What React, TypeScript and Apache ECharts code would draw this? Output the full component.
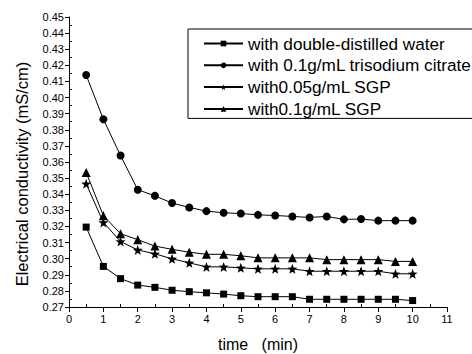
import React, { useEffect, useRef } from "react";
import * as echarts from "echarts";

const times = [0.5, 1, 1.5, 2, 2.5, 3, 3.5, 4, 4.5, 5, 5.5, 6, 6.5, 7, 7.5, 8, 8.5, 9, 9.5, 10];

const seriesNames = [
  "with double-distilled water",
  "with 0.1g/mL trisodium citrate",
  "with0.05g/mL SGP",
  "with0.1g/mL SGP",
];

const waterValues = [0.3196, 0.2952, 0.2876, 0.2836, 0.2822, 0.2804, 0.2795, 0.2788, 0.278, 0.277, 0.2764, 0.2764, 0.2764, 0.2748, 0.2748, 0.2748, 0.2748, 0.2748, 0.2748, 0.274];
const citrateValues = [0.414, 0.3865, 0.364, 0.3428, 0.339, 0.3345, 0.3318, 0.3295, 0.3285, 0.328, 0.3272, 0.3268, 0.3262, 0.3256, 0.3262, 0.3244, 0.3246, 0.3236, 0.3236, 0.3236];
const sgp005Values = [0.3465, 0.3225, 0.3107, 0.3054, 0.303, 0.2999, 0.2974, 0.2949, 0.2949, 0.2943, 0.2937, 0.2937, 0.2937, 0.2922, 0.2922, 0.2922, 0.2922, 0.2922, 0.2906, 0.2906];
const sgp01Values = [0.3535, 0.3267, 0.3155, 0.3118, 0.3078, 0.3058, 0.304, 0.3027, 0.3027, 0.3018, 0.3005, 0.3005, 0.3005, 0.3005, 0.2994, 0.2994, 0.2994, 0.2994, 0.2983, 0.2983];

const waterErrors = [0.001, 0.001, 0.001, 0.001, 0.001, 0.001, 0.001, 0.001, 0.001, 0.001, 0.001, 0.001, 0.001, 0.001, 0.001, 0.001, 0.001, 0.001, 0.001, 0.001];
const citrateErrors = [0.001, 0.001, 0.0015, 0.001, 0.0025, 0.002, 0.002, 0.0015, 0.001, 0.001, 0.001, 0.001, 0.001, 0.001, 0.001, 0.001, 0.001, 0.001, 0.001, 0.001];
const sgp005Errors = [0.0015, 0.002, 0.0015, 0.0015, 0.002, 0.002, 0.002, 0.002, 0.002, 0.002, 0.002, 0.002, 0.002, 0.002, 0.002, 0.002, 0.002, 0.002, 0.002, 0.002];
const sgp01Errors = [0.0015, 0.0025, 0.002, 0.0025, 0.002, 0.002, 0.002, 0.0015, 0.0015, 0.002, 0.002, 0.002, 0.002, 0.002, 0.002, 0.002, 0.002, 0.002, 0.002, 0.002];

const xTickMin = 0;
const xTickMax = 11;
const yTickMin = 0.27;
const yTickMax = 0.45;

const xTitle = "time   (min)";
const yTitle = "Electrical conductivity (mS/cm)";

const STAR =
  "path://M0,-10L2.35,-3.24L9.51,-3.09L3.8,1.24L5.88,8.09L0,4.2L-5.88,8.09L-3.8,1.24L-9.51,-3.09L-2.35,-3.24Z";

const FONT = "Arial";

export default function App() {
  const ref = useRef<HTMLDivElement>(null);

  useEffect(() => {
    if (!ref.current) return;
    const chart = echarts.init(ref.current, undefined, { renderer: "svg" });

    const valueSets = [waterValues, citrateValues, sgp005Values, sgp01Values];
    const errorSets = [waterErrors, citrateErrors, sgp005Errors, sgp01Errors];
    const symbols = ["rect", "circle", STAR, "triangle"];
    const sizes = [7, 8, 10, 9];

    const lineSeries = seriesNames.map((name, i) => ({
      name,
      type: "line",
      data: times.map((t, j) => [t, valueSets[i][j]]),
      symbol: symbols[i],
      symbolSize: sizes[i],
      showAllSymbol: true,
      lineStyle: { color: "#000", width: 1 },
      itemStyle: { color: "#000" },
      z: 3,
    }));

    const errData: number[][] = [];
    valueSets.forEach((vals, i) => {
      vals.forEach((v, j) => errData.push([times[j], v, errorSets[i][j]]));
    });

    const errSeries = {
      type: "custom",
      name: "err",
      data: errData,
      z: 2,
      renderItem: (params: any, api: any) => {
        const x = api.value(0);
        const y = api.value(1);
        const e = api.value(2);
        const p1 = api.coord([x, y - e]);
        const p2 = api.coord([x, y + e]);
        return {
          type: "line",
          shape: { x1: p1[0], y1: p1[1], x2: p2[0], y2: p2[1] },
          style: { stroke: "#000", lineWidth: 1 },
        };
      },
    };

    chart.setOption({
      animation: false,
      textStyle: { fontFamily: FONT, fontWeight: 400 },
      grid: { left: 69, right: 25, top: 17, bottom: 47, outerBoundsMode: "none", containLabel: false },
      graphic: [
        {
          type: "text",
          x: 22,
          y: 174,
          rotation: Math.PI / 2,
          style: {
            text: yTitle,
            fontFamily: FONT,
            fontSize: 16.5,
            fontWeight: 400,
            fill: "#000",
            align: "center",
            verticalAlign: "middle",
          },
        },
        {
          type: "text",
          x: 258,
          y: 344,
          style: {
            text: xTitle,
            fontFamily: FONT,
            fontSize: 16,
            fontWeight: 400,
            fill: "#000",
            align: "center",
            verticalAlign: "middle",
          },
        },
      ],
      legend: {
        data: seriesNames,
        orient: "vertical",
        left: 188,
        top: 29,
        padding: [6, 3, 1, 15],
        itemGap: 4.8,
        itemWidth: 39,
        itemHeight: 7,
        borderColor: "#000",
        borderWidth: 1,
        textStyle: { fontFamily: FONT, fontSize: 17.2, fontWeight: 400, color: "#000" },
      },
      xAxis: {
        type: "value",
        min: xTickMin,
        max: xTickMax,
        interval: 1,
        axisLine: { lineStyle: { color: "#000", width: 1 } },
        axisTick: { show: true, length: 5, lineStyle: { color: "#000" } },
        minorTick: { show: true, splitNumber: 2, length: -3, lineStyle: { color: "#000" } },
        axisLabel: { fontFamily: FONT, fontSize: 11, color: "#000", margin: 6 },
        splitLine: { show: false },
      },
      yAxis: {
        type: "value",
        min: yTickMin,
        max: yTickMax,
        interval: 0.01,
        axisLine: { show: true, lineStyle: { color: "#000", width: 1 } },
        axisTick: { show: true, length: 4, lineStyle: { color: "#000" } },
        minorTick: { show: true, splitNumber: 2, length: -3, lineStyle: { color: "#000" } },
        axisLabel: {
          fontFamily: FONT,
          fontSize: 11,
          color: "#000",
          margin: 5,
          formatter: (v: number) => v.toFixed(2),
        },
        splitLine: { show: false },
      },
      series: [...lineSeries, errSeries],
    });

    return () => chart.dispose();
  }, []);

  return <div ref={ref} style={{ width: 472, height: 354, position: "absolute", left: 0, top: 0 }} />;
}
